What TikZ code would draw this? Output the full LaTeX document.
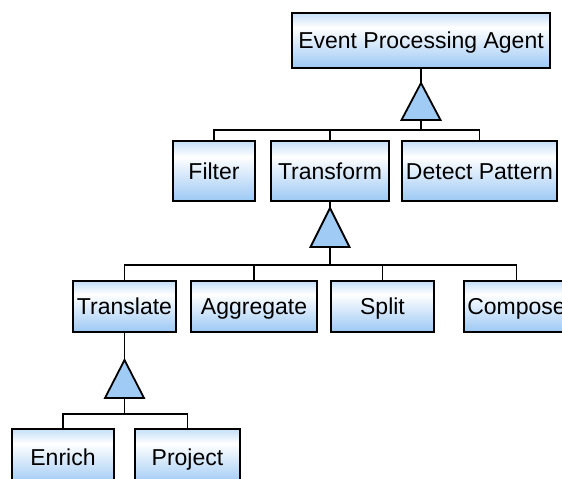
\documentclass[tikz,border=0pt]{standalone}
\usepackage{fontspec}
\setmainfont{Liberation Sans}
\definecolor{bbot}{HTML}{9CC8F4}
\definecolor{btop}{HTML}{C4DEF8}
\definecolor{trifill}{HTML}{A0CBF5}
\pgfdeclareverticalshading{boxshade}{100bp}{color(0bp)=(bbot); color(25bp)=(bbot); color(62bp)=(white); color(75bp)=(btop); color(100bp)=(btop)}
\begin{document}
\begin{tikzpicture}[x=1pt,y=-1pt,
  box/.style={draw=black, line width=1.8pt, shade, shading=boxshade, inner sep=0pt, outer sep=0pt, font=\fontsize{23}{26}\selectfont, text=black, text height=16.5pt, text depth=0pt},
  link/.style={line width=1.8pt},
  tri/.style={draw=black, line width=1.8pt, fill=trifill, line join=miter}]
\useasboundingbox (0,0) rectangle (562,479);
\clip (0,0) rectangle (562,479);
% nodes
\node[box, minimum width=258pt, minimum height=55pt] (epa) at (421,40.5) {Event Processing Agent};
\node[box, minimum width=82pt, minimum height=60pt] (filter) at (214,171) {Filter};
\node[box, minimum width=118pt, minimum height=60pt] (transform) at (330,171) {Transform};
\node[box, minimum width=155pt, minimum height=60pt] (detect) at (479.5,171) {Detect Pattern};
\node[box, minimum width=103pt, minimum height=51pt] (translate) at (124.5,306.5) {Translate};
\node[box, minimum width=126pt, minimum height=51pt] (aggregate) at (254,306.5) {Aggregate};
\node[box, minimum width=103pt, minimum height=51pt] (split) at (382.5,306.5) {Split};
\node[box, minimum width=105pt, minimum height=51pt] (compose) at (516.5,306.5) {Compose};
\node[box, minimum width=102pt, minimum height=56pt] (enrich) at (63,457) {Enrich};
\node[box, minimum width=105pt, minimum height=56pt] (project) at (187.5,457) {Project};
% triangle coordinates
\coordinate (t1) at (421,83);  \coordinate (t1b) at (421,120); \coordinate (b1) at (421,130);
\coordinate (t2) at (330,208); \coordinate (t2b) at (330,247); \coordinate (b2) at (330,265);
\coordinate (t3) at (124.5,360); \coordinate (t3b) at (124.5,398); \coordinate (b3) at (124.5,414);
% level 1
\draw[link] (epa.south) -- (t1);
\draw[link] (t1b) -- (b1);
\draw[link] (filter.north) |- (b1) -| (detect.north);
\draw[link] (transform.north) -- (transform.north |- b1);
\draw[tri] (t1) -- ([xshift=-19.5pt]t1b) -- ([xshift=19.5pt]t1b) -- cycle;
% level 2
\draw[link] (transform.south) -- (t2);
\draw[link] (t2b) -- (b2);
\draw[link] (translate.north) |- (b2) -| (compose.north);
\draw[link] (aggregate.north) -- (aggregate.north |- b2);
\draw[link] (split.north) -- (split.north |- b2);
\draw[tri] (t2) -- ([xshift=-19.5pt]t2b) -- ([xshift=19.5pt]t2b) -- cycle;
% level 3
\draw[link] (translate.south) -- (t3);
\draw[link] (t3b) -- (b3);
\draw[link] (enrich.north) |- (b3) -| (project.north);
\draw[tri] (t3) -- ([xshift=-19.5pt]t3b) -- ([xshift=19.5pt]t3b) -- cycle;
\end{tikzpicture}
\end{document}
